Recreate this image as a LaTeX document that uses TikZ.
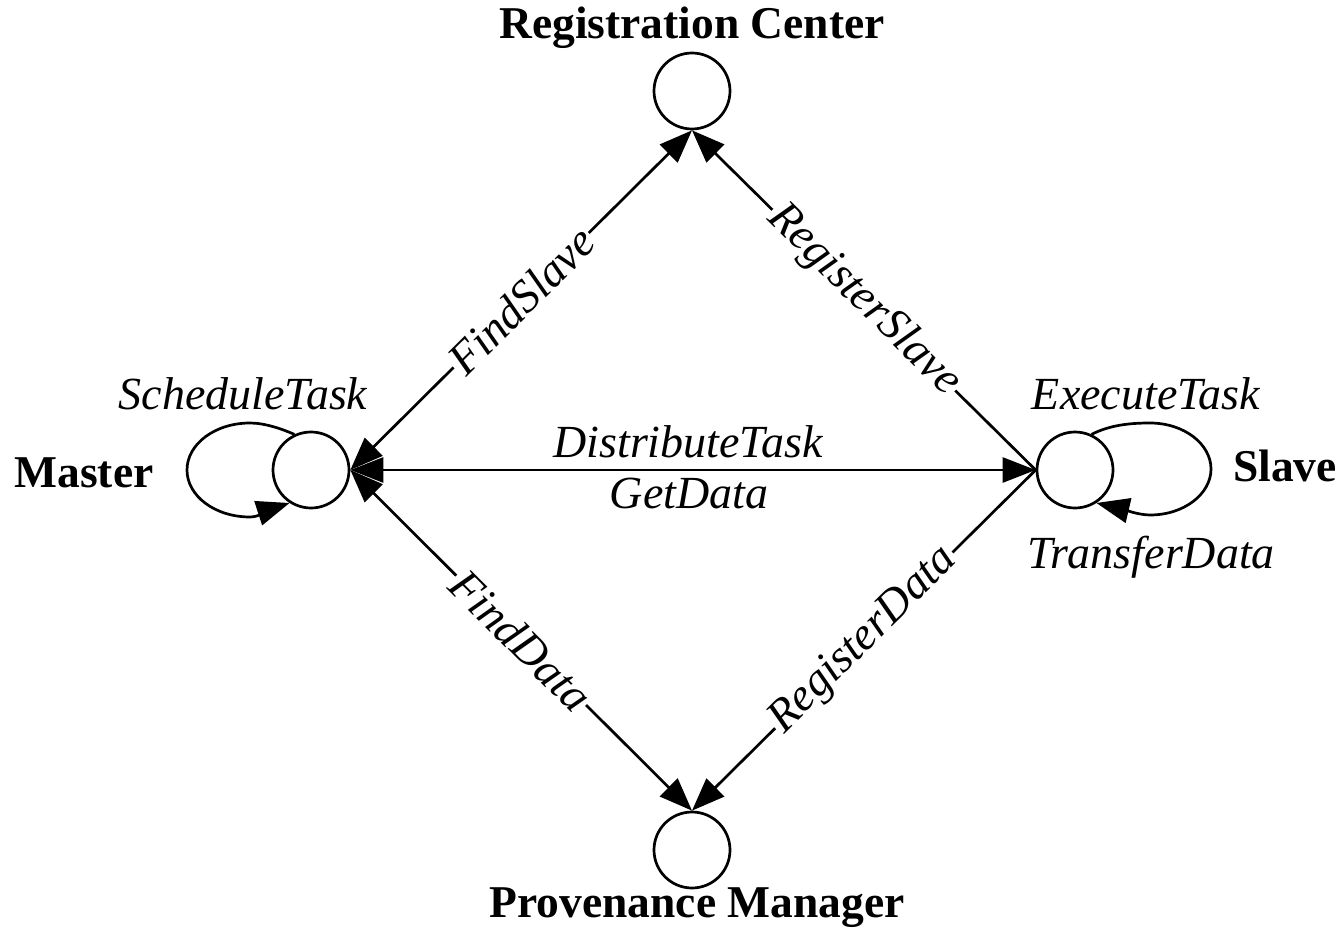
\documentclass[tikz,border=0pt]{standalone}
\usepackage{fontspec}
\setmainfont{Liberation Serif}
\usetikzlibrary{arrows.meta}
\begin{document}
\begin{tikzpicture}[x=1pt,y=-1pt,
  state/.style={draw,circle,line width=2.7pt,minimum size=76pt,inner sep=0pt},
  title/.style={font=\fontsize{45.5}{50}\selectfont\bfseries,inner sep=0pt},
  act/.style={font=\fontsize{46}{50}\selectfont\itshape,inner sep=0pt},
  onedge/.style={act,fill=white,inner sep=2pt,sloped,midway},
  conn/.style={line width=2.7pt},
  tip/.style={conn,-{Triangle[length=33pt,width=25pt]}},
  both/.style={conn,{Triangle[length=33pt,width=25pt]}-{Triangle[length=33pt,width=25pt]}}
]
\useasboundingbox (0,0) rectangle (1341,936);
\node[state] (RC) at (692,91) {};
\node[state] (PM) at (692,850) {};
\node[state] (M) at (311,470) {};
\node[state] (S) at (1075,470) {};

\node[title,anchor=base] (RCl) at (692,39) {Registration Center};
\node[title,anchor=base] (PMl) at (697,917) {Provenance Manager};
\node[title,anchor=base] (Ml) at (84,487) {Master};
\node[title,anchor=base west] (Sl) at (1233,481) {Slave};

\node[act,anchor=base] (st) at (243,409) {ScheduleTask};
\node[act,anchor=base] (et) at (1146,409) {ExecuteTask};
\node[act,anchor=base] (td) at (1151,568) {TransferData};
\node[act,anchor=base] (dt) at (688,457) {DistributeTask};
\node[act,anchor=base] (gd) at (689,508) {GetData};

\draw[both] (M.east) -- node[onedge] {FindSlave} (RC.south);
\draw[tip] (S.west) -- node[onedge] {RegisterSlave} (RC.south);
\draw[both] (M.east) -- (S.west);
\draw[both] (M.east) -- node[onedge] {FindData} (PM.north);
\draw[tip] (S.west) -- node[onedge] {RegisterData} (PM.north);

\draw[tip] (M.115) .. controls (282,429) and (265,423) .. (250,423)
  .. controls (215,423) and (187,444) .. (187,470)
  .. controls (187,496) and (215,517) .. (250,517)
  .. controls (260,517) and (268,510) .. (M.237);
\draw[tip] (S.65) .. controls (1110,425) and (1130,423) .. (1150,423)
  .. controls (1184,423) and (1211,444) .. (1211,469)
  .. controls (1211,494) and (1184,515) .. (1150,515)
  .. controls (1138,515) and (1122,509) .. (S.-57);
\end{tikzpicture}
\end{document}
